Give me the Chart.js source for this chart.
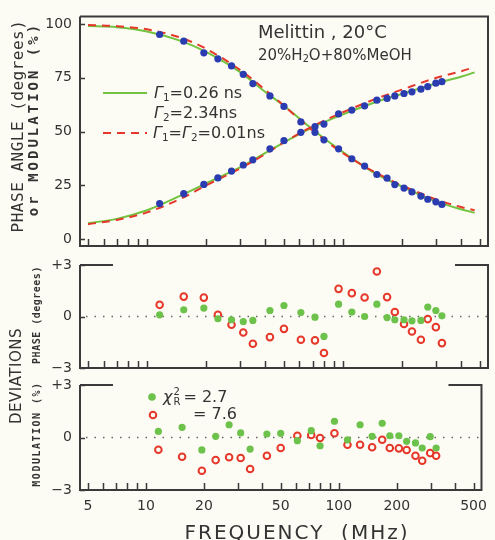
<!DOCTYPE html>
<html>
<head>
<meta charset="utf-8">
<script src="https://cdn.jsdelivr.net/npm/chart.js@4/dist/chart.umd.min.js"></script>
<style>
  body { margin: 0; background: #fdfcf4; }
  #wrap { position: relative; width: 495px; height: 540px; overflow: hidden; font-family: "DejaVu Sans", sans-serif; color: #333; }
  canvas { position: absolute; left: 0; top: 0; }
  .lbl { position: absolute; white-space: nowrap; line-height: 1; transform: translateY(-50%); }
  .rot { position: absolute; white-space: nowrap; line-height: 1; transform: translate(-50%, -50%) rotate(-90deg); }
  sub { font-size: 0.65em; vertical-align: -0.3em; line-height: 0; }
  .g { font-style: italic; }
  .ss { display: inline-flex; flex-direction: column; font-size: 10px; line-height: 10px; vertical-align: middle; margin: 0 3px 0 1px; }
</style>
</head>
<body>
<div id="wrap">
  <canvas id="top" width="495" height="540"></canvas>
  <canvas id="phase" width="495" height="540"></canvas>
  <canvas id="mod" width="495" height="540"></canvas>

  <div class="rot" style="left:18px;top:126px;font-family:'DejaVu Sans Mono';font-size:16px;letter-spacing:0.5px">PHASE ANGLE (degrees)</div>
  <div class="rot" style="left:33px;top:119px;font-family:'DejaVu Sans Mono';font-size:14px;font-weight:bold;letter-spacing:3px">or MODULATION (%)</div>
  <div class="rot" style="left:16px;top:376px;font-size:15px;letter-spacing:0.5px">DEVIATIONS</div>
  <div class="rot" style="left:37px;top:315px;font-family:'DejaVu Sans Mono';font-size:10px;font-weight:bold;letter-spacing:0.5px">PHASE (degrees)</div>
  <div class="rot" style="left:37px;top:434px;font-family:'DejaVu Sans Mono';font-size:10px;font-weight:bold;letter-spacing:1.5px">MODULATION (%)</div>

  <div class="lbl" style="left:258px;top:32px;font-size:18px">Melittin , 20°C</div>
  <div class="lbl" style="left:258px;top:55px;font-size:15px">20%H<sub>2</sub>O+80%MeOH</div>

  <div class="lbl" style="left:154px;top:93px;font-size:16px"><span class="g">Γ</span><sub>1</sub>=0.26 ns</div>
  <div class="lbl" style="left:154px;top:113px;font-size:16px"><span class="g">Γ</span><sub>2</sub>=2.34ns</div>
  <div class="lbl" style="left:153px;top:133px;font-size:16px"><span class="g">Γ</span><sub>1</sub>=<span class="g">Γ</span><sub>2</sub>=0.01ns</div>

  <div class="lbl" style="left:163px;top:397px;font-size:16px"><span class="g">χ</span><span class="ss"><span>2</span><span>R</span></span>= 2.7</div>
  <div class="lbl" style="left:193px;top:414px;font-size:16px">= 7.6</div>

  <div class="lbl" style="left:297px;top:532px;font-size:20px;letter-spacing:2px;transform:translate(-50%,-50%)">FREQUENCY&nbsp;&nbsp;(MHz)</div>
</div>

<script>
// measured frequencies (MHz)
const freqMHz = [11.6, 15.4, 19.5, 23, 27, 31, 34.7, 42.4, 50, 61, 72, 80, 95, 111, 129, 149, 168, 184, 205, 225, 250, 271, 298, 320];
const phaseDeg = [16.6, 21.2, 25.5, 28.5, 31.7, 34.5, 36.9, 42.0, 45.8, 49.7, 52.3, 53.5, 58.2, 60.0, 62.0, 64.6, 65.4, 66.6, 67.7, 68.5, 69.7, 70.9, 72.5, 73.2];
const modulationPct = [95.1, 92.0, 86.6, 83.8, 80.5, 76.6, 72.3, 66.6, 61.7, 54.5, 49.7, 46.2, 42.0, 37.4, 34.0, 30.1, 28.4, 25.4, 23.8, 22.0, 20.1, 18.6, 17.4, 16.2];

// fitted curves
const fitFreq = [5, 7, 10, 15, 20, 30, 40, 50, 70, 100, 150, 200, 300, 400, 470];
const fitPhaseGreen = [7.5, 9.5, 13.5, 20.5, 26, 33.5, 40, 45, 52, 58, 64, 67.5, 72.5, 75.5, 77.5];
const fitModGreen = [99, 98.5, 96.5, 92, 87, 77.5, 68.5, 62, 51, 40.5, 30, 24.5, 17.5, 14, 12.3];
const fitPhaseRed = [7, 9, 12.5, 19, 25, 33, 39.5, 45, 52.5, 59, 65.5, 69.5, 75, 78, 80];
const fitModRed = [99.5, 99, 97.5, 93.5, 88.5, 78.5, 69.5, 62, 50.5, 40, 30.5, 25, 18.5, 15, 13.5];

// deviations
const devPhaseGreen = [0.1, 0.39, 0.49, -0.13, -0.19, -0.29, -0.23, 0.35, 0.64, 0.23, -0.04, -1.16, 0.72, 0.26, 0, 0.72, -0.06, -0.19, -0.19, -0.25, -0.23, 0.55, 0.35, 0.04];
const devPhaseRed = [0.68, 1.16, 1.1, 0.1, -0.48, -0.93, -1.59, -1.2, -0.72, -1.35, -1.39, -2.13, 1.61, 1.36, 1.11, 2.62, 1.13, 0.26, -0.44, -0.87, -1.35, -0.15, -0.62, -1.55];
const devModGreen = [0.35, 0.58, -0.71, 0.07, 0.73, 0.26, -0.66, 0.2, 0.24, -0.18, 0.39, -0.47, 0.93, -0.13, 0.73, 0.07, 0.81, 0.1, 0.1, -0.22, -0.31, -0.6, 0.05, -0.6];
const devModRed = [-0.7, -1.1, -1.9, -1.29, -1.13, -1.17, -1.8, -1.04, -0.6, 0.1, 0.14, -0.03, 0.24, -0.41, -0.41, -0.56, -0.13, -0.6, -0.62, -0.71, -1.04, -1.33, -0.89, -1.04];

const xTickLabels = [5, 10, 20, 50, 100, 200, 500];
const xMinorTicks = [5, 6, 7, 8, 9, 10, 20, 30, 40, 50, 60, 70, 80, 90, 100, 200, 300, 400, 500];
const yTicksTop = [0, 25, 50, 75, 100];
const yTicksDev = [-3, 0, 3];

const BLUE = '#2b3cb0', GREEN = '#72c33f', RED = '#e5372a', DEVGREEN = '#6cc24a', AXIS = '#3a3a3a';
const tickFont = { family: 'DejaVu Sans', size: 14 };

const pts = (xs, ys) => xs.map((x, i) => ({ x: x, y: ys[i] }));

const framePlugin = {
  id: 'frame',
  beforeDatasetsDraw(chart, args, o) {
    const { ctx, chartArea: a, scales } = chart;
    if (o.zeroLine) {
      const y0 = scales.y.getPixelForValue(0);
      ctx.save();
      ctx.strokeStyle = '#666';
      ctx.lineWidth = 1.5;
      ctx.setLineDash([1.5, 7]);
      ctx.beginPath();
      ctx.moveTo(a.left + 6, y0);
      ctx.lineTo(a.right, y0);
      ctx.stroke();
      ctx.restore();
    }
  },
  afterDraw(chart, args, o) {
    const { ctx, chartArea: a, scales } = chart;
    ctx.save();
    ctx.strokeStyle = AXIS;
    ctx.lineWidth = 2;
    ctx.beginPath();
    ctx.moveTo(a.left, a.top);
    ctx.lineTo(a.left, a.bottom);
    ctx.lineTo(a.right, a.bottom);
    ctx.lineTo(a.right, a.top);
    if (o.fullTop) {
      ctx.lineTo(a.left, a.top);
    } else {
      ctx.lineTo(a.right - 33, a.top);
      ctx.moveTo(a.left, a.top);
      ctx.lineTo(a.left + 33, a.top);
    }
    ctx.stroke();
    // inward ticks
    ctx.lineWidth = 1.5;
    ctx.beginPath();
    xMinorTicks.forEach(v => {
      const x = Math.round(scales.x.getPixelForValue(v)) + 0.5;
      ctx.moveTo(x, a.bottom);
      ctx.lineTo(x, a.bottom - 7);
    });
    o.yTicks.forEach(v => {
      const y = Math.round(scales.y.getPixelForValue(v)) + 0.5;
      ctx.moveTo(a.left, y);
      ctx.lineTo(a.left + 5, y);
    });
    ctx.stroke();
    // legend samples
    (o.legend || []).forEach(l => {
      ctx.beginPath();
      if (l.type === 'line') {
        ctx.strokeStyle = l.color;
        ctx.lineWidth = 2;
        ctx.setLineDash(l.dash || []);
        ctx.moveTo(l.x1, l.y);
        ctx.lineTo(l.x2, l.y);
        ctx.stroke();
        ctx.setLineDash([]);
      } else if (l.type === 'dot') {
        ctx.fillStyle = l.color;
        ctx.arc(l.x, l.y, 3.8, 0, Math.PI * 2);
        ctx.fill();
      } else {
        ctx.strokeStyle = l.color;
        ctx.lineWidth = 2;
        ctx.arc(l.x, l.y, 3.3, 0, Math.PI * 2);
        ctx.stroke();
      }
    });
    ctx.restore();
  }
};

function makeChart(id, datasets, cfg) {
  return new Chart(document.getElementById(id), {
    type: 'line',
    data: { datasets: datasets },
    plugins: [framePlugin],
    options: {
      responsive: false,
      animation: false,
      devicePixelRatio: 1,
      layout: { padding: { top: cfg.top, bottom: cfg.bottom, left: 0, right: 7 } },
      plugins: {
        legend: { display: false },
        tooltip: { enabled: false },
        frame: { fullTop: cfg.fullTop, yTicks: cfg.yTicks, zeroLine: cfg.zeroLine, legend: cfg.legend }
      },
      scales: {
        x: {
          type: 'logarithmic',
          min: 4.55,
          max: 550,
          grid: { display: false, drawTicks: false },
          border: { display: false },
          ticks: { display: cfg.xLabels, font: tickFont, color: '#333', padding: 8, autoSkip: false, maxRotation: 0, callback: v => String(v) },
          afterBuildTicks: s => { s.ticks = xTickLabels.map(v => ({ value: v })); },
          afterFit: s => { s.height = cfg.xLabels ? 26 : 0; }
        },
        y: {
          min: cfg.yMin,
          max: cfg.yMax,
          grid: { display: false, drawTicks: false },
          border: { display: false },
          ticks: { font: tickFont, color: '#333', padding: 8, callback: cfg.yFmt },
          afterBuildTicks: s => { s.ticks = cfg.yTicks.map(v => ({ value: v })); },
          afterFit: s => { s.width = 80; }
        }
      }
    }
  });
}

const dots = (data, color) => ({ data: data, showLine: false, pointRadius: 3.6, pointBackgroundColor: color, pointBorderWidth: 0 });
const rings = (data, color) => ({ data: data, showLine: false, pointRadius: 3.3, pointBackgroundColor: 'rgba(0,0,0,0)', pointBorderColor: color, pointBorderWidth: 2 });
const curve = (data, color, dash) => ({ data: data, borderColor: color, borderWidth: 2, borderDash: dash || [], pointRadius: 0, cubicInterpolationMode: 'monotone', fill: false });

makeChart('top', [
  dots(pts(freqMHz, phaseDeg), BLUE),
  dots(pts(freqMHz, modulationPct), BLUE),
  curve(pts(fitFreq, fitPhaseRed), RED, [8, 6]),
  curve(pts(fitFreq, fitModRed), RED, [8, 6]),
  curve(pts(fitFreq, fitPhaseGreen), GREEN),
  curve(pts(fitFreq, fitModGreen), GREEN)
], {
  top: 15, bottom: 294, fullTop: true, xLabels: false,
  yMin: -3.1, yMax: 103.5, yTicks: yTicksTop, yFmt: v => String(v),
  legend: [
    { type: 'line', color: GREEN, x1: 103, x2: 147, y: 93 },
    { type: 'line', color: RED, x1: 103, x2: 147, y: 133, dash: [8, 6] }
  ]
});

const devFmt = v => v > 0 ? '+' + v : (v < 0 ? '\u2212' + (-v) : '0');

makeChart('phase', [
  dots(pts(freqMHz, devPhaseGreen), DEVGREEN),
  rings(pts(freqMHz, devPhaseRed), RED)
], {
  top: 265, bottom: 172, fullTop: false, xLabels: false, zeroLine: true,
  yMin: -3, yMax: 3, yTicks: yTicksDev, yFmt: devFmt
});

makeChart('mod', [
  dots(pts(freqMHz, devModGreen), DEVGREEN),
  rings(pts(freqMHz, devModRed), RED)
], {
  top: 385, bottom: 24, fullTop: false, xLabels: true, zeroLine: true,
  yMin: -3, yMax: 3, yTicks: yTicksDev, yFmt: devFmt,
  legend: [
    { type: 'dot', color: DEVGREEN, x: 152, y: 397 },
    { type: 'ring', color: RED, x: 153, y: 415 }
  ]
});
</script>
</body>
</html>
